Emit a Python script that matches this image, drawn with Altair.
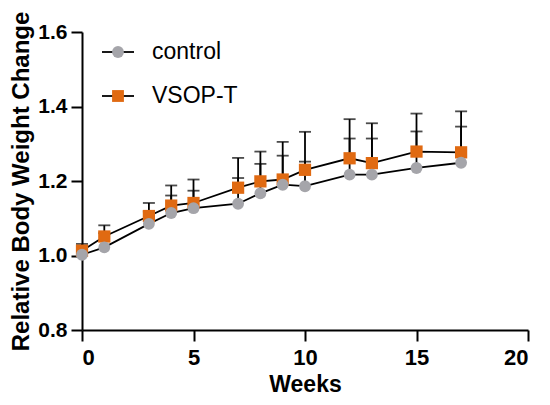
import altair as alt
import pandas as pd

weeks = [0, 1, 3, 4, 5, 7, 8, 9, 10, 12, 13, 15, 17]
control = [1.002, 1.022, 1.085, 1.114, 1.127, 1.139, 1.167, 1.190, 1.186, 1.217, 1.217, 1.235, 1.249]
control_sd = [0.012, 0.038, 0.033, 0.047, 0.047, 0.069, 0.079, 0.078, 0.066, 0.097, 0.097, 0.098, 0.097]
vsop = [1.013, 1.051, 1.106, 1.134, 1.141, 1.182, 1.199, 1.204, 1.230, 1.261, 1.248, 1.279, 1.277]
vsop_sd = [0.018, 0.030, 0.035, 0.054, 0.063, 0.080, 0.080, 0.101, 0.102, 0.105, 0.107, 0.102, 0.110]

series_names = ['control', 'VSOP-T']
series_colors = ['#A5A5AA', '#E06A12']
series_shapes = ['circle', 'square']

FONT = 'Liberation Sans'

df = pd.concat([
    pd.DataFrame({'week': weeks, 'value': control, 'sd': control_sd, 'series': 'control'}),
    pd.DataFrame({'week': weeks, 'value': vsop, 'sd': vsop_sd, 'series': 'VSOP-T'}),
])
df['upper'] = df['value'] + df['sd']

x_enc = alt.X('week:Q', title='Weeks',
              scale=alt.Scale(domain=[0, 20], nice=False),
              axis=alt.Axis(values=[0, 5, 10, 15, 20], labelFontSize=22, labelPadding=6,
                            titleFontSize=23, titlePadding=5))
y_enc = alt.Y('value:Q', title='Relative Body Weight Change',
              scale=alt.Scale(domain=[0.8, 1.6], nice=False, zero=False),
              axis=alt.Axis(values=[0.8, 1.0, 1.2, 1.4, 1.6], format='.1f', titlePadding=4))

base = alt.Chart(df)

lines = base.mark_line(color='black', strokeWidth=1.8).encode(
    x=x_enc, y=y_enc, detail='series:N'
)

err = base.mark_rule(color='black', strokeWidth=1.8).encode(
    x='week:Q', y='value:Q', y2='upper:Q'
)

caps = base.mark_tick(color='black', orient='horizontal', size=12, thickness=1.8).encode(
    x='week:Q', y='upper:Q'
)

squares = base.mark_point(shape='square', filled=True, opacity=1, size=150,
                          color=series_colors[1]).encode(
    x='week:Q', y='value:Q'
).transform_filter(alt.datum.series == 'VSOP-T')

circles = base.mark_point(shape='circle', filled=True, opacity=1, size=140,
                          color=series_colors[0]).encode(
    x='week:Q', y='value:Q'
).transform_filter(alt.datum.series == 'control')

# hand-made legend in the top left corner
legend_layers = []
legend_y = [20, 64]
for i, name in enumerate(series_names):
    row = alt.Chart(pd.DataFrame({'series': [name]}))
    legend_layers.append(row.mark_rule(color='black', strokeWidth=1.8).encode(
        x=alt.value(20), x2=alt.value(52), y=alt.value(legend_y[i])))
    legend_layers.append(row.mark_point(shape=series_shapes[i], filled=True, opacity=1,
                                        size=140, color=series_colors[i]).encode(
        x=alt.value(36), y=alt.value(legend_y[i])))
    legend_layers.append(row.mark_text(align='left', baseline='middle', font=FONT,
                                       fontSize=23, color='black').encode(
        text='series:N', x=alt.value(70), y=alt.value(legend_y[i])))

chart = alt.layer(lines, err, caps, squares, circles, *legend_layers).properties(
    width=446,
    height=298,
    padding={'left': 74, 'top': 24, 'right': 14, 'bottom': 67},
    autosize=alt.AutoSizeParams(type='none'),
).configure_view(
    stroke=None
).configure_axis(
    grid=False,
    domainColor='black',
    domainWidth=2,
    tickColor='black',
    tickWidth=2,
    tickSize=11,
    labelPadding=4,
    labelFont=FONT,
    labelFontSize=21,
    labelFontWeight='bold',
    labelColor='black',
    titleFont=FONT,
    titleFontSize=24,
    titleFontWeight='bold',
    titleColor='black',
)

chart.save('out.html', embed_options={'renderer': 'svg', 'actions': False})
